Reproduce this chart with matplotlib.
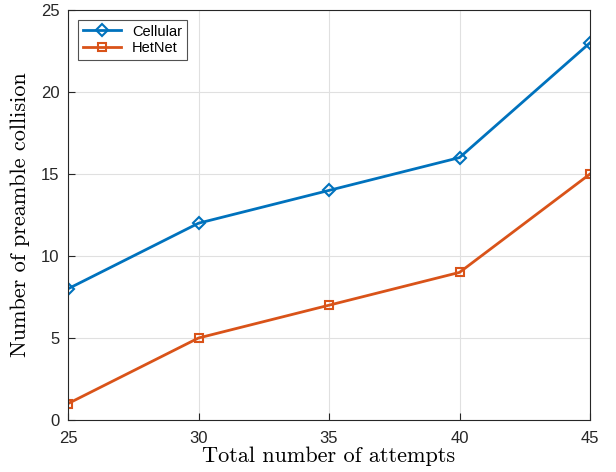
import matplotlib
matplotlib.use('Agg')
import matplotlib.pyplot as plt

attempts = [25, 30, 35, 40, 45]
cellular = [8, 12, 14, 16, 23]
hetnet = [1, 5, 7, 9, 15]

plt.rcParams['font.family'] = ['Liberation Sans', 'DejaVu Sans']
plt.rcParams['mathtext.fontset'] = 'cm'

fig = plt.figure(figsize=(6.16, 4.72), dpi=100)
ax = fig.add_axes([68 / 616, 1 - 420 / 472, (590 - 68) / 616, (420 - 10) / 472])

ax.plot(attempts, cellular, color='#0072BD', lw=2, marker='D', ms=6.5,
        mfc='none', mew=1.5, label='Cellular')
ax.plot(attempts, hetnet, color='#D95319', lw=2, marker='s', ms=6,
        mfc='none', mew=1.5, label='HetNet')

ax.set_xlim(25, 45)
ax.set_ylim(0, 25)
ax.set_xticks(attempts)
ax.set_yticks([0, 5, 10, 15, 20, 25])
ax.tick_params(direction='in', labelsize=12, length=5, colors='#262626')
ax.tick_params(axis='x', pad=8)
ax.tick_params(axis='y', pad=6)
ax.grid(True, color='#e0e0e0', lw=0.8)
ax.set_axisbelow(True)
for s in ax.spines.values():
    s.set_color('#262626')
    s.set_linewidth(0.8)

ax.set_xlabel('Total number of attempts', fontfamily='cmr10', fontsize=16, labelpad=0)
ax.set_ylabel('Number of preamble collision', fontfamily='cmr10', fontsize=16, labelpad=8)

leg = ax.legend(loc='upper left', fontsize=10.5, fancybox=False, edgecolor='#262626',
                borderaxespad=0.7, handlelength=2.6, borderpad=0.3, labelspacing=0.2)
leg.get_frame().set_linewidth(0.8)

fig.savefig('out.png', dpi=100)
